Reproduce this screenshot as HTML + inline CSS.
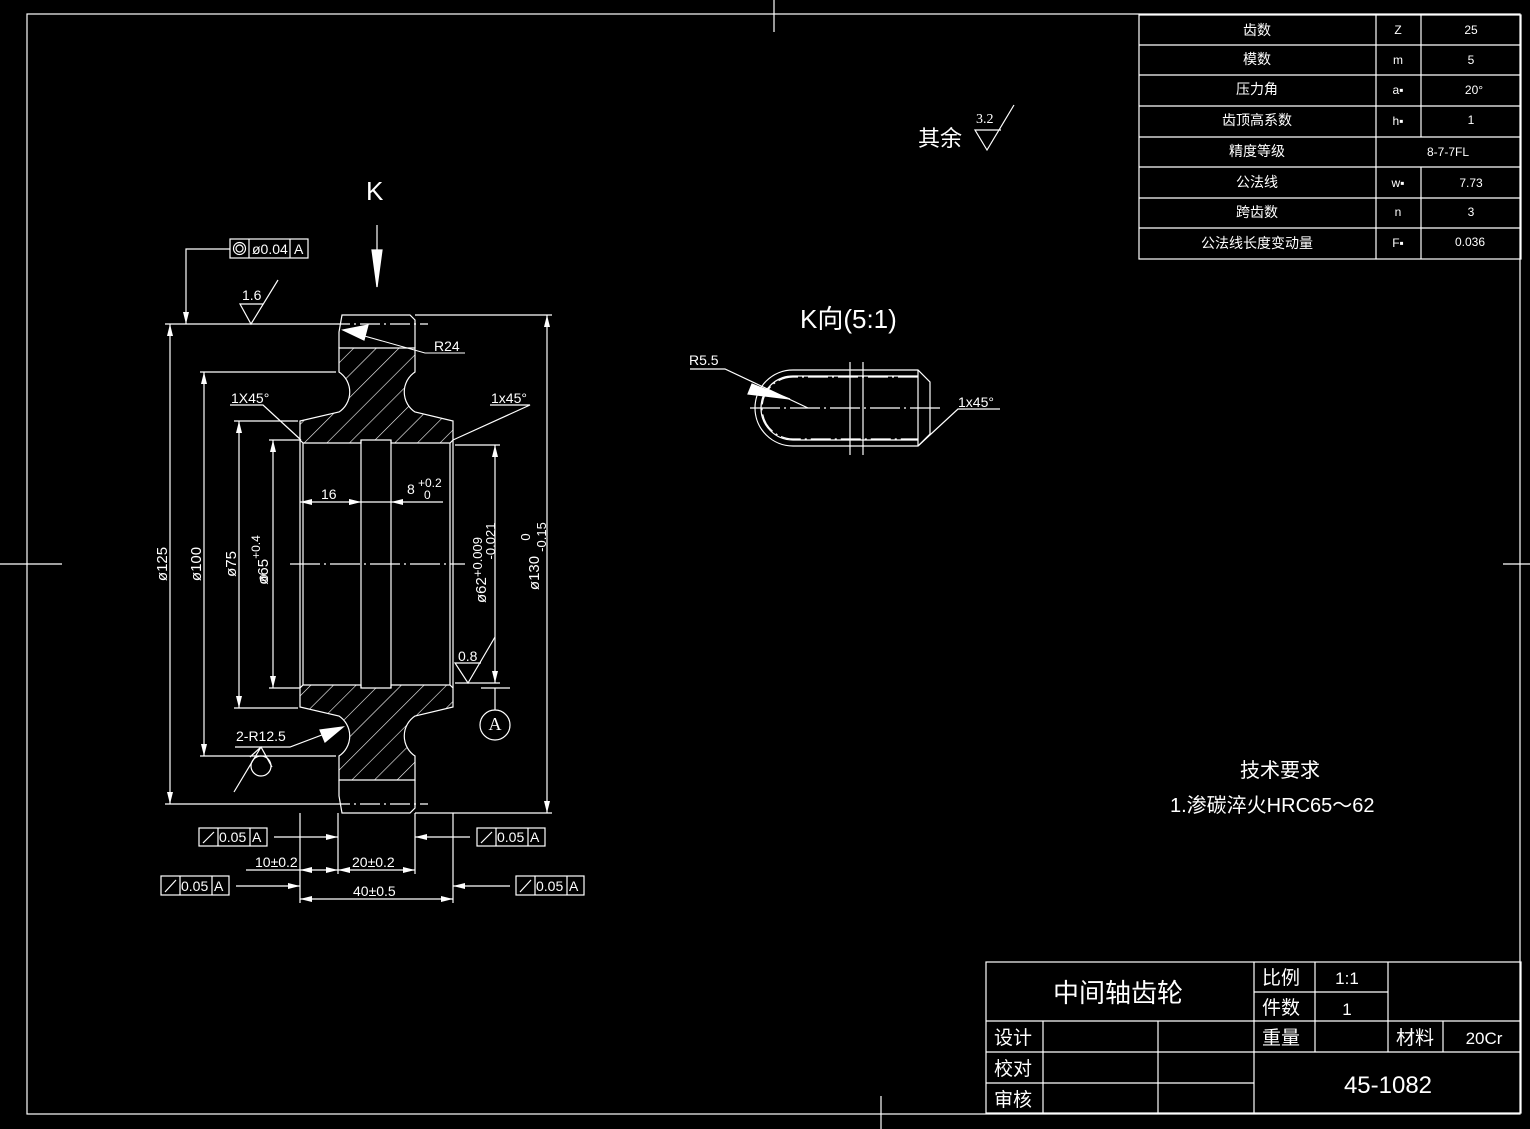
<!DOCTYPE html>
<html><head><meta charset="utf-8"><style>
html,body{margin:0;padding:0;background:#000;}
svg{display:block;}
text{fill:#fff;font-family:"Liberation Sans","Noto Sans CJK SC",sans-serif;}
.s{font-family:"Liberation Serif","Noto Serif CJK SC",serif;}
</style></head><body>
<svg width="1530" height="1129" viewBox="0 0 1530 1129" xmlns="http://www.w3.org/2000/svg">
<defs>
<pattern id="h" width="16" height="16" patternUnits="userSpaceOnUse" patternTransform="rotate(45)">
<line x1="0" y1="0" x2="0" y2="16" stroke="#fff" stroke-width="1.2"/>
</pattern>
<marker id="a" markerWidth="12" markerHeight="6" refX="12" refY="3" orient="auto" markerUnits="userSpaceOnUse"><path d="M0,0 L12,3 L0,6z" fill="#fff"/></marker>
<marker id="b" markerWidth="12" markerHeight="6" refX="0" refY="3" orient="auto" markerUnits="userSpaceOnUse"><path d="M12,0 L0,3 L12,6z" fill="#fff"/></marker>
</defs>
<rect width="1530" height="1129" fill="#000"/>
<g stroke="#fff" stroke-width="1.2" fill="none">
<rect x="27" y="14" width="1493" height="1100"/>
<line x1="774" y1="0" x2="774" y2="32"/>
<line x1="0" y1="564" x2="62" y2="564"/>
<line x1="1503" y1="564" x2="1530" y2="564"/>
<line x1="881" y1="1096" x2="881" y2="1129"/>
<rect x="1139" y="15" width="382" height="244"/>
<line x1="1139" y1="45" x2="1521" y2="45"/><line x1="1139" y1="75" x2="1521" y2="75"/>
<line x1="1139" y1="106" x2="1521" y2="106"/><line x1="1139" y1="137" x2="1521" y2="137"/>
<line x1="1139" y1="167" x2="1521" y2="167"/><line x1="1139" y1="198" x2="1521" y2="198"/>
<line x1="1139" y1="228" x2="1521" y2="228"/>
<line x1="1376" y1="15" x2="1376" y2="259"/>
<line x1="1421" y1="15" x2="1421" y2="137"/><line x1="1421" y1="167" x2="1421" y2="259"/>
<rect x="986" y="962" width="535" height="151"/>
<line x1="986" y1="1021" x2="1521" y2="1021"/>
<line x1="986" y1="1052" x2="1254" y2="1052"/>
<line x1="986" y1="1083" x2="1254" y2="1083"/>
<line x1="1254" y1="992" x2="1388" y2="992"/>
<line x1="1254" y1="1052" x2="1521" y2="1052"/>
<line x1="1043" y1="1021" x2="1043" y2="1113"/>
<line x1="1158" y1="1021" x2="1158" y2="1113"/>
<line x1="1254" y1="962" x2="1254" y2="1113"/>
<line x1="1315" y1="962" x2="1315" y2="1052"/>
<line x1="1388" y1="962" x2="1388" y2="1052"/>
<line x1="1443" y1="1021" x2="1443" y2="1052"/>
<path d="M339,348 L415,348 L415,372 A24,24 0 0 0 415,412 L453,421 L453,440 L450,443 L391,443 L391,440 L361,440 L361,443 L303,443 L300,440 L300,421 L339,412 A24,24 0 0 0 339,372 Z" fill="url(#h)"/>
<path d="M339,780 L415,780 L415,756 A24,24 0 0 1 415,716 L453,707 L453,688 L450,685 L391,685 L391,688 L361,688 L361,685 L303,685 L300,688 L300,707 L339,716 A24,24 0 0 1 339,756 Z" fill="url(#h)"/>
<path d="M339,348 L339,332 L342,315 L410,315 L415,320 L415,348"/>
<path d="M339,780 L339,796 L342,813 L410,813 L415,808 L415,780"/>
<line x1="300" y1="440" x2="300" y2="688"/><line x1="303" y1="443" x2="303" y2="685"/>
<line x1="453" y1="440" x2="453" y2="688"/><line x1="450" y1="443" x2="450" y2="685"/>
<line x1="361" y1="440" x2="361" y2="688"/><line x1="391" y1="440" x2="391" y2="688"/>
<line x1="290" y1="564" x2="465" y2="564" stroke-dasharray="30,4,2,4"/>
<line x1="330" y1="324" x2="428" y2="324" stroke-dasharray="20,4,2,4"/>
<line x1="330" y1="804" x2="428" y2="804" stroke-dasharray="20,4,2,4"/>
<line x1="165" y1="324" x2="330" y2="324"/><line x1="165" y1="804" x2="330" y2="804"/>
<line x1="170" y1="324" x2="170" y2="804" marker-start="url(#b)" marker-end="url(#a)"/>
<line x1="200" y1="372" x2="336" y2="372"/><line x1="200" y1="756" x2="336" y2="756"/>
<line x1="204" y1="372" x2="204" y2="756" marker-start="url(#b)" marker-end="url(#a)"/>
<line x1="234" y1="421" x2="298" y2="421"/><line x1="234" y1="708" x2="298" y2="708"/>
<line x1="239" y1="421" x2="239" y2="708" marker-start="url(#b)" marker-end="url(#a)"/>
<line x1="269" y1="440" x2="300" y2="440"/><line x1="269" y1="688" x2="300" y2="688"/>
<line x1="273" y1="440" x2="273" y2="688" marker-start="url(#b)" marker-end="url(#a)"/>
<line x1="455" y1="445" x2="500" y2="445"/><line x1="455" y1="683" x2="500" y2="683"/>
<line x1="495" y1="445" x2="495" y2="683" marker-start="url(#b)" marker-end="url(#a)"/>
<line x1="415" y1="315" x2="552" y2="315"/><line x1="415" y1="813" x2="552" y2="813"/>
<line x1="547" y1="315" x2="547" y2="813" marker-start="url(#b)" marker-end="url(#a)"/>
<line x1="377" y1="225" x2="377" y2="287"/>
<path d="M372,250 L377,287 L382,250Z" fill="#fff"/>
<rect x="230" y="239" width="78" height="19"/><line x1="249" y1="239" x2="249" y2="258"/><line x1="290" y1="239" x2="290" y2="258"/>
<circle cx="239.5" cy="248.5" r="6"/><circle cx="239.5" cy="248.5" r="3.5"/>
<polyline points="230,249 186,249 186,324" marker-end="url(#a)"/>
<path d="M263,304 L240,304 L251,324 L278,280"/>
<polyline points="465,353 425,353 343,330" stroke-width="1"/>
<path d="M343,330 L368,325 L364,340Z" fill="#fff"/>
<polyline points="230,405 263,405 301,440"/>
<polyline points="490,405 530,405 453,440"/>
<line x1="300" y1="502" x2="361" y2="502" marker-start="url(#b)" marker-end="url(#a)"/>
<line x1="361" y1="502" x2="391" y2="502" marker-start="url(#a)" marker-end="url(#b)"/>
<line x1="391" y1="502" x2="443" y2="502"/>
<path d="M481,663 L455,663 L468,683 L495,637"/>
<line x1="481" y1="688" x2="510" y2="688"/>
<line x1="495" y1="688" x2="495" y2="710"/>
<circle cx="495" cy="725" r="15"/>
<polyline points="235,747 290,747 343,727"/>
<path d="M343,727 L320,730 L325,742Z" fill="#fff"/>
<circle cx="261" cy="766" r="10"/>
<path d="M250,757 L261,747 L272,767 M261,747 L234,792"/>
<rect x="199" y="828" width="68" height="18"/><line x1="218" y1="828" x2="218" y2="846"/><line x1="250" y1="828" x2="250" y2="846"/>
<line x1="203" y1="843" x2="214" y2="832"/>
<line x1="274" y1="837" x2="338" y2="837" marker-end="url(#a)"/>
<rect x="477" y="828" width="68" height="18"/><line x1="496" y1="828" x2="496" y2="846"/><line x1="528" y1="828" x2="528" y2="846"/>
<line x1="481" y1="843" x2="492" y2="832"/>
<line x1="470" y1="837" x2="415" y2="837" marker-end="url(#a)"/>
<rect x="161" y="876" width="68" height="19"/><line x1="180" y1="876" x2="180" y2="895"/><line x1="212" y1="876" x2="212" y2="895"/>
<line x1="165" y1="892" x2="176" y2="880"/>
<line x1="236" y1="886" x2="300" y2="886" marker-end="url(#a)"/>
<rect x="516" y="876" width="68" height="19"/><line x1="535" y1="876" x2="535" y2="895"/><line x1="567" y1="876" x2="567" y2="895"/>
<line x1="520" y1="892" x2="531" y2="880"/>
<line x1="510" y1="886" x2="453" y2="886" marker-end="url(#a)"/>
<line x1="300" y1="813" x2="300" y2="903"/><line x1="453" y1="813" x2="453" y2="903"/>
<line x1="338" y1="813" x2="338" y2="874"/><line x1="415" y1="813" x2="415" y2="874"/>
<line x1="246" y1="870" x2="300" y2="870"/>
<line x1="300" y1="870" x2="338" y2="870" marker-start="url(#b)" marker-end="url(#a)"/>
<line x1="338" y1="870" x2="415" y2="870" marker-start="url(#b)" marker-end="url(#a)"/>
<line x1="300" y1="899" x2="453" y2="899" marker-start="url(#b)" marker-end="url(#a)"/>
<path d="M793,370 L918,370 L930,382 L930,434 L918,446 L793,446 A38,38 0 0 1 793,370Z"/>
<line x1="918" y1="370" x2="918" y2="446"/>
<path d="M918,376 L793,376 A32,32 0 0 0 793,440 L918,440"/>
<path d="M918,377 L793,377 A26,26 0 0 0 793,439 L918,439" stroke-dasharray="20,4,2,4"/>
<line x1="750" y1="408" x2="940" y2="408" stroke-dasharray="30,4,2,4"/>
<line x1="850" y1="362" x2="850" y2="455"/><line x1="863" y1="362" x2="863" y2="455"/>
<polyline points="690,369 725,369 808,408"/>
<path d="M790,399 L752,384 L748,394Z" fill="#fff"/>
<polyline points="1000,409 958,409 918,446"/>
<path d="M1001,130 L975,130 L987,150 L1014,105"/>
</g>
<g font-size="14">
<text x="1257" y="35" text-anchor="middle">齿数</text>
<text x="1257" y="64" text-anchor="middle">模数</text>
<text x="1257" y="94" text-anchor="middle">压力角</text>
<text x="1257" y="125" text-anchor="middle">齿顶高系数</text>
<text x="1257" y="156" text-anchor="middle">精度等级</text>
<text x="1257" y="187" text-anchor="middle">公法线</text>
<text x="1257" y="217" text-anchor="middle">跨齿数</text>
<text x="1257" y="248" text-anchor="middle">公法线长度变动量</text>
</g>
<g font-size="12" class="s" text-anchor="middle">
<text x="1398" y="34">Z</text><text x="1471" y="34">25</text>
<text x="1398" y="64">m</text><text x="1471" y="64">5</text>
<text x="1398" y="94">a▪</text><text x="1474" y="94">20°</text>
<text x="1398" y="125">h▪</text><text x="1471" y="124">1</text>
<text x="1448" y="156">8-7-7FL</text>
<text x="1398" y="187">w▪</text><text x="1471" y="187">7.73</text>
<text x="1398" y="216">n</text><text x="1471" y="216">3</text>
<text x="1398" y="247">F▪</text><text x="1470" y="246">0.036</text>
</g>
<text x="1118" y="1002" font-size="26" text-anchor="middle">中间轴齿轮</text>
<g font-size="19">
<text x="1262" y="984">比例</text><text x="1262" y="1014">件数</text><text x="1262" y="1044">重量</text>
<text x="1396" y="1044">材料</text>
<text x="994" y="1044">设计</text><text x="994" y="1075">校对</text><text x="994" y="1106">审核</text>
</g>
<g class="s" text-anchor="middle">
<text x="1347" y="984" font-size="17">1:1</text>
<text x="1347" y="1015" font-size="17">1</text>
<text x="1484" y="1044" font-size="17">20Cr</text>
<text x="1388" y="1093" font-size="24">45-1082</text>
</g>
<g font-size="14">
<text x="252" y="254">ø0.04</text><text x="294" y="254">A</text>
<text x="242" y="300">1.6</text>
<text x="434" y="351">R24</text>
<text x="231" y="403">1X45°</text>
<text x="491" y="403">1x45°</text>
<text x="321" y="499">16</text>
<text x="407" y="494">8</text><text x="418" y="487" font-size="12">+0.2</text><text x="424" y="499" font-size="12">0</text>
<text x="458" y="661">0.8</text>
<text x="236" y="741">2-R12.5</text>
<text x="219" y="842">0.05</text><text x="252" y="842">A</text>
<text x="497" y="842">0.05</text><text x="530" y="842">A</text>
<text x="181" y="891">0.05</text><text x="214" y="891">A</text>
<text x="536" y="891">0.05</text><text x="569" y="891">A</text>
<text x="255" y="867">10±0.2</text>
<text x="352" y="867">20±0.2</text>
<text x="353" y="896">40±0.5</text>
<text x="689" y="365">R5.5</text>
<text x="958" y="407">1x45°</text>
</g>
<text x="495" y="730" font-size="18" class="s" text-anchor="middle">A</text>
<g font-size="15" text-anchor="middle">
<text transform="translate(167,564) rotate(-90)">ø125</text>
<text transform="translate(201,564) rotate(-90)">ø100</text>
<text transform="translate(236,564) rotate(-90)">ø75</text>
<text transform="translate(268,560) rotate(-90)">ø65<tspan font-size="12" dy="-8">+0.4</tspan></text>
<text transform="translate(268,578) rotate(-90)" font-size="12">0</text>
<text transform="translate(486,570) rotate(-90)">ø62<tspan font-size="13" dy="-4">+0.009</tspan></text>
<text transform="translate(495,541) rotate(-90)" font-size="13">-0.021</text>
<text transform="translate(539,573) rotate(-90)">ø130</text>
<text transform="translate(530,537) rotate(-90)" font-size="13">0</text>
<text transform="translate(546,537) rotate(-90)" font-size="13">-0.15</text>
</g>
<text x="366" y="200" font-size="26">K</text>
<text x="800" y="328" font-size="26">K向(5:1)</text>
<text x="918" y="146" font-size="22">其余</text>
<text x="976" y="123" font-size="14" class="s">3.2</text>
<text x="1280" y="777" font-size="20" text-anchor="middle">技术要求</text>
<text x="1170" y="812" font-size="20">1.渗碳淬火HRC65～62</text>
</svg>
</body></html>
